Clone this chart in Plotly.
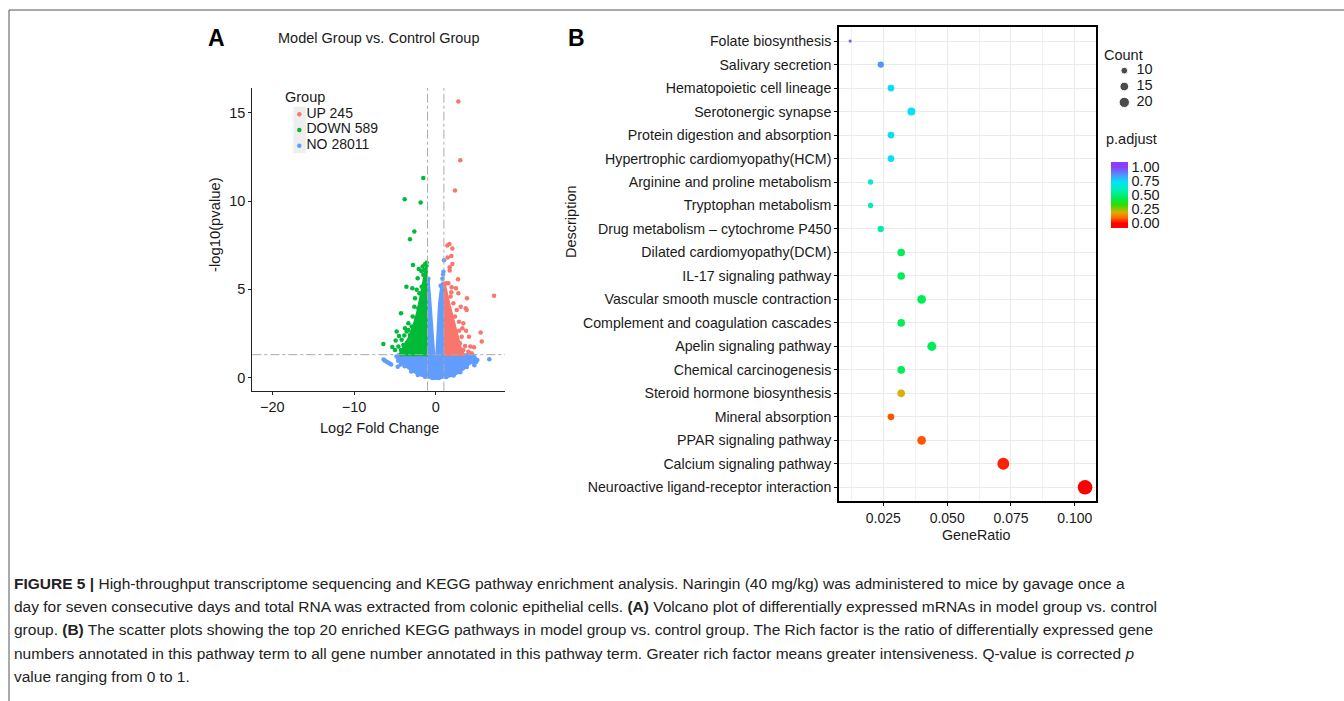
import plotly.graph_objects as go

W, H = 1344, 701

# ---------------- Panel A: volcano plot ----------------
up_x = [2.77, 3.01, 2.36, 7.14, 1.67, 2.04, 1.42, 1.91, 1.46, 2.04, 1.71, 1.71, 2.73, 1.30, 1.55,
        1.95, 2.48, 1.91, 3.83, 3.67, 3.79, 2.85, 3.38, 2.85, 4.07, 5.50, 5.63, 4.24, 4.69, 3.59,
        3.38, 3.71, 2.16, 2.57, 2.36, 3.18, 2.97, 3.99, 4.40, 1.83, 3.06, 1.75, 2.77, 3.26]
up_y = [15.63, 12.31, 10.59, 4.63, 7.57, 7.31, 7.48, 6.89, 6.80, 6.44, 6.25, 6.06, 5.57, 5.34, 5.34,
        5.12, 5.06, 4.83, 4.49, 3.93, 3.83, 3.17, 3.08, 2.66, 2.32, 2.55, 2.04, 1.76, 1.72, 1.79,
        1.57, 2.66, 4.21, 3.83, 3.46, 2.32, 1.95, 1.47, 1.38, 4.59, 4.02, 3.08, 4.78, 2.79]

down_x = [-1.52, -3.80, -1.84, -2.62, -3.15, -2.78, -1.31, -1.11, -1.60, -1.39, -2.08, -1.76, -1.23,
          -1.52, -2.21, -1.15, -3.59, -2.86, -2.33, -1.72, -1.31, -2.00, -1.52, -2.53, -1.39, -1.72,
          -2.62, -2.13, -1.31, -4.25, -2.82, -2.33, -3.35, -2.94, -3.76, -3.55, -4.78, -4.49, -3.84,
          -3.35, -3.15, -4.90, -4.17, -5.31, -6.41, -4.57, -3.96, -4.98, -4.25, -3.55, -2.94, -2.53,
          -1.92, -2.13]
down_y = [11.31, 10.10, 9.91, 8.27, 7.84, 6.38, 6.42, 6.51, 6.29, 6.10, 6.15, 6.04, 6.00,
          5.82, 5.63, 5.53, 5.15, 5.06, 4.97, 5.15, 5.25, 4.78, 4.78, 4.49, 4.40, 4.21,
          4.02, 3.93, 3.83, 3.65, 3.46, 3.36, 3.08, 2.89, 2.80, 2.61, 2.61, 2.36, 2.38,
          2.70, 2.42, 2.10, 2.14, 1.74, 1.91, 1.76, 1.85, 1.57, 1.57, 1.95, 2.14, 2.32,
          3.46, 2.89]

no_x = [-6.38, -6.20, -6.00, -5.80, -5.60, -5.45, -4.65, -4.80, -4.60, -4.30, 6.56, 4.73, 4.95,
        5.10, 4.60, 4.40, 1.02, 0.90, 0.82, 0.95, -0.95, -0.90, 0.60, 3.00, -3.00, 2.20, -2.20,
        0.40, -0.40, 1.30, -1.30, 3.80, -3.80]
no_y = [1.02, 0.96, 0.90, 0.84, 0.79, 0.75, 0.62, 1.20, 0.95, 0.75, 1.04, 0.70, 0.88,
        1.00, 0.85, 1.10, 6.65, 5.84, 5.60, 6.00, 5.45, 5.60, 5.20, 0.30, 0.35, 0.12, 0.15,
        -0.02, -0.02, 0.03, 0.05, 0.60, 0.65]

# outlines of the densely packed (fully overplotted) clouds
no_core_x = [-4.7, -1.0, -1.0, -0.9, -0.75, -0.6, -0.45, -0.3, -0.17, -0.08, 0.02, 0.1, 0.18, 0.28,
             0.45, 0.62, 0.78, 0.92, 1.0, 1.0, 4.6, 4.85, 4.6, 4.0, 3.4, 2.7, 2.0, 1.0, 0.0, -1.0,
             -2.0, -2.8, -3.5, -4.2, -4.75]
no_core_y = [1.3, 1.3, 5.3, 5.4, 4.6, 3.6, 2.6, 1.7, 0.9, 0.3, 0.25, 0.9, 2.0, 3.1,
             4.1, 4.8, 5.3, 5.4, 5.2, 1.3, 1.3, 1.15, 0.95, 0.75, 0.5, 0.28, 0.12, 0.03, -0.05, 0.03,
             0.17, 0.37, 0.6, 0.85, 1.1]
down_core_x = [-1.0, -4.4, -3.9, -3.3, -2.7, -2.2, -1.8, -1.45, -1.15, -1.0]
down_core_y = [1.3, 1.3, 1.7, 2.2, 2.9, 3.7, 4.6, 5.5, 6.2, 6.4]
up_core_x = [1.0, 3.4, 3.0, 2.7, 2.3, 1.95, 1.65, 1.35, 1.15, 1.0]
up_core_y = [1.3, 1.3, 1.7, 2.2, 2.9, 3.5, 4.1, 4.7, 5.2, 5.4]

group_labels = ["UP 245", "DOWN 589", "NO 28011"]
fc_cut = 1.0
p_cut = 1.30

volcano_xticks = [-20, -10, 0]
volcano_yticks = [0, 5, 10, 15]

# ---------------- Panel B: KEGG dot plot ----------------
pathways = [
    "Folate biosynthesis", "Salivary secretion", "Hematopoietic cell lineage",
    "Serotonergic synapse", "Protein digestion and absorption",
    "Hypertrophic cardiomyopathy(HCM)", "Arginine and proline metabolism",
    "Tryptophan metabolism", "Drug metabolism \u2013 cytochrome P450",
    "Dilated cardiomyopathy(DCM)", "IL-17 signaling pathway",
    "Vascular smooth muscle contraction", "Complement and coagulation cascades",
    "Apelin signaling pathway", "Chemical carcinogenesis",
    "Steroid hormone biosynthesis", "Mineral absorption", "PPAR signaling pathway",
    "Calcium signaling pathway", "Neuroactive ligand-receptor interaction",
]
gene_ratio = [0.012, 0.024, 0.028, 0.036, 0.028, 0.028, 0.020, 0.020, 0.024, 0.032,
              0.032, 0.040, 0.032, 0.044, 0.032, 0.032, 0.028, 0.040, 0.072, 0.104]
counts = [4, 9, 10, 13, 10, 10, 7, 7, 9, 12, 12, 15, 12, 16, 12, 12, 10, 15, 26, 38]
p_adjust = [0.96, 0.86, 0.74, 0.73, 0.74, 0.74, 0.63, 0.58, 0.58, 0.45,
            0.45, 0.45, 0.45, 0.45, 0.45, 0.20, 0.08, 0.08, 0.03, 0.00]
count_breaks = [10, 15, 20]
gr_ticks = [0.025, 0.050, 0.075, 0.100]
padj_ticks = [0.0, 0.25, 0.50, 0.75, 1.0]

# ---------------- helpers ----------------
def fx(px):
    return px / W

def fy(py):
    return 1 - py / H

def dot_d(c):
    return max(3.0, max(-14 + 6.0 * c, 0) ** 0.5)

C_UP, C_DOWN, C_NO = "#F8766D", "#00BA38", "#619CFF"
FONT = "Liberation Sans, Arial, sans-serif"
TXT = "#1a1a1a"

CMIN, CMAX = -0.082, 1.089
stops = [(0.00, "#FF0000"), (0.10, "#FF6A00"), (0.20, "#D8B000"), (0.32, "#33DD00"),
         (0.45, "#00EE55"), (0.60, "#00EEBB"), (0.73, "#00E5F5"), (0.85, "#4C9AFF"),
         (1.00, "#8B3DFF")]
cscale = [[0.0, stops[0][1]]]
for p, c in stops:
    cscale.append([(p - CMIN) / (CMAX - CMIN), c])
cscale.append([1.0, stops[-1][1]])

fig = go.Figure()

# volcano clouds
for cx, cy, col in [(no_core_x, no_core_y, C_NO), (down_core_x, down_core_y, C_DOWN),
                    (up_core_x, up_core_y, C_UP)]:
    fig.add_trace(go.Scatter(x=cx, y=cy, mode="lines", fill="toself", fillcolor=col,
                             line=dict(color=col, width=3), hoverinfo="skip",
                             showlegend=False, xaxis="x", yaxis="y"))
for px_, py_, col, name in [(no_x, no_y, C_NO, group_labels[2]),
                            (down_x, down_y, C_DOWN, group_labels[1]),
                            (up_x, up_y, C_UP, group_labels[0])]:
    fig.add_trace(go.Scatter(x=px_, y=py_, mode="markers", name=name,
                             marker=dict(color=col, size=4.5, line=dict(width=0)),
                             showlegend=False, xaxis="x", yaxis="y"))

# group legend (hidden axis x4/y4, 1 unit = 1 px horizontally)
fig.add_trace(go.Scatter(x=[9.3, 9.3, 9.3], y=[0, 1, 2], mode="markers",
                         marker=dict(color=[C_UP, C_DOWN, C_NO], size=4.5),
                         showlegend=False, hoverinfo="skip", xaxis="x4", yaxis="y4",
                         cliponaxis=False))
fig.add_trace(go.Scatter(x=[16.5, 16.5, 16.5], y=[0, 1, 2], mode="text", text=group_labels,
                         textposition="middle right",
                         textfont=dict(size=14, color=TXT, family=FONT),
                         showlegend=False, hoverinfo="skip", xaxis="x4", yaxis="y4",
                         cliponaxis=False))

# KEGG dots
fig.add_trace(go.Scatter(
    x=gene_ratio, y=pathways, mode="markers", showlegend=False,
    marker=dict(size=[dot_d(c) for c in counts], color=p_adjust, colorscale=cscale,
                cmin=CMIN, cmax=CMAX, line=dict(width=0), opacity=1,
                colorbar=dict(x=fx(1110.7), xanchor="left", y=fy(161.7), yanchor="top",
                              len=65.6, lenmode="pixels", thickness=17,
                              thicknessmode="pixels", xpad=0, ypad=0, outlinewidth=0,
                              tickvals=padj_ticks,
                              ticktext=["%.2f" % v for v in padj_ticks], ticks="",
                              tickfont=dict(size=14.5, color=TXT, family=FONT))),
    xaxis="x2", yaxis="y2"))

# count legend (hidden axis x3/y3, 1 unit = 1 px horizontally)
fig.add_trace(go.Scatter(x=[6.3] * 3, y=[0, 1, 2], mode="markers",
                         marker=dict(size=[dot_d(c) for c in count_breaks], color="black"),
                         showlegend=False, hoverinfo="skip", xaxis="x3", yaxis="y3",
                         cliponaxis=False))
fig.add_trace(go.Scatter(x=[18.5] * 3, y=[0, 1, 2], mode="text",
                         text=[str(c) for c in count_breaks], textposition="middle right",
                         textfont=dict(size=14.5, color=TXT, family=FONT),
                         showlegend=False, hoverinfo="skip", xaxis="x3", yaxis="y3",
                         cliponaxis=False))

axis_common = dict(showgrid=False, zeroline=False, showline=True, linecolor="#222",
                   linewidth=1, ticks="outside", ticklen=3, tickcolor="#222",
                   tickfont=dict(size=14.5, color=TXT, family=FONT))

shapes = [
    # figure frame
    dict(type="line", xref="paper", yref="paper", x0=fx(9), x1=1, y0=fy(10), y1=fy(10),
         line=dict(color="#555", width=1)),
    dict(type="line", xref="paper", yref="paper", x0=fx(9), x1=fx(9), y0=0, y1=fy(10),
         line=dict(color="#555", width=1)),
    # thresholds
    dict(type="line", xref="x", yref="y domain", x0=-fc_cut, x1=-fc_cut, y0=0, y1=1,
         line=dict(color="#AAAAAA", width=1, dash="dashdot"), layer="above"),
    dict(type="line", xref="x", yref="y domain", x0=fc_cut, x1=fc_cut, y0=0, y1=1,
         line=dict(color="#AAAAAA", width=1, dash="dashdot"), layer="above"),
    dict(type="line", xref="x domain", yref="y", x0=0, x1=1, y0=p_cut, y1=p_cut,
         line=dict(color="#AAAAAA", width=1, dash="dashdot"), layer="above"),
    # legend key background
    dict(type="rect", xref="x4", yref="y4", x0=3.3, x1=16, y0=-0.5, y1=2.5,
         fillcolor="#EEEEEE", line=dict(width=0), layer="below"),
]

def ann(text, x, y, size=13, angle=0, xanchor="center", bold=False, family=FONT, color=TXT):
    return dict(text=("<b>%s</b>" % text) if bold else text, x=fx(x), y=fy(y),
                xref="paper", yref="paper", showarrow=False, textangle=angle,
                xanchor=xanchor, yanchor="middle",
                font=dict(size=size, color=color, family=family))

annotations = [
    ann("A", 216, 38, size=23, bold=True, color="black"),
    ann("B", 576, 38, size=23, bold=True, color="black"),
    ann("Model Group vs. Control Group", 378, 38, size=14.5),
    ann("-log10(pvalue)", 215, 224, size=14.8, angle=-90),
    ann("Log2 Fold Change", 379, 428, size=14.5),
    ann("Group", 283, 97, size=14.5, xanchor="left"),
    ann("Description", 571, 222, size=14.5, angle=-90),
    ann("GeneRatio", 976, 535, size=14.3),
    ann("Count", 1102, 55, size=14.5, xanchor="left"),
    ann("p.adjust", 1104, 139, size=14.5, xanchor="left"),
]

CAP = "Liberation Sans, Arial, sans-serif"
caption = [
    "<b>FIGURE 5 |</b> High-throughput transcriptome sequencing and KEGG pathway enrichment analysis. Naringin (40 mg/kg) was administered to mice by gavage once a",
    "day for seven consecutive days and total RNA was extracted from colonic epithelial cells. <b>(A)</b> Volcano plot of differentially expressed mRNAs in model group vs. control",
    "group. <b>(B)</b> The scatter plots showing the top 20 enriched KEGG pathways in model group vs. control group. The Rich factor is the ratio of differentially expressed gene",
    "numbers annotated in this pathway term to all gene number annotated in this pathway term. Greater rich factor means greater intensiveness. Q-value is corrected <i>p</i>",
    "value ranging from 0 to 1.",
]
for i, line in enumerate(caption):
    annotations.append(ann(line, 12, 583 + i * 23.4, size=15.5, xanchor="left",
                           family=CAP, color="#222"))

fig.update_layout(
    width=W, height=H, margin=dict(l=0, r=0, t=0, b=0),
    paper_bgcolor="white", plot_bgcolor="white",
    font=dict(family=FONT, color=TXT),
    xaxis=dict(domain=[fx(252.3), fx(505)], range=[-22.45, 8.48], tickvals=volcano_xticks,
               anchor="y", **axis_common),
    yaxis=dict(domain=[fy(390.7), fy(88)], range=[-0.74, 16.4], tickvals=volcano_yticks,
               anchor="x", **axis_common),
    xaxis2=dict(domain=[fx(839), fx(1096)], range=[0.00764, 0.1083], anchor="y2",
                tickvals=gr_ticks, ticktext=["%.3f" % v for v in gr_ticks],
                showgrid=True, gridcolor="#EBEBEB", gridwidth=1.1, zeroline=False,
                showline=True, mirror=True, linecolor="black", linewidth=1.6,
                ticks="outside", ticklen=3, tickcolor="black",
                minor=dict(dtick=0.0125, tick0=0, showgrid=True, gridcolor="#F2F2F2",
                           gridwidth=0.6, ticks=""),
                tickfont=dict(size=14, color=TXT, family=FONT)),
    yaxis2=dict(domain=[fy(501.4), fy(27)], range=[-0.6, 19.6], anchor="x2",
                type="category", categoryorder="array", categoryarray=pathways[::-1],
                showgrid=True, gridcolor="#EBEBEB", gridwidth=1.1, zeroline=False,
                showline=True, mirror=True, linecolor="black", linewidth=1.6,
                ticks="outside", ticklen=3, tickcolor="black",
                tickfont=dict(size=14.2, color=TXT, family=FONT)),
    xaxis3=dict(domain=[fx(1118), fx(1160)], range=[0, 42], visible=False, anchor="y3"),
    yaxis3=dict(domain=[fy(110.3), fy(62.7)], range=[2.5, -0.5], visible=False, anchor="x3"),
    xaxis4=dict(domain=[fx(290), fx(400)], range=[0, 110], visible=False, anchor="y4"),
    yaxis4=dict(domain=[fy(153.55), fy(106.45)], range=[2.5, -0.5], visible=False,
                anchor="x4"),
    shapes=shapes, annotations=annotations,
)

fig.write_html("out.html", post_script="document.body.style.margin='0';",
               config={"displayModeBar": False})
